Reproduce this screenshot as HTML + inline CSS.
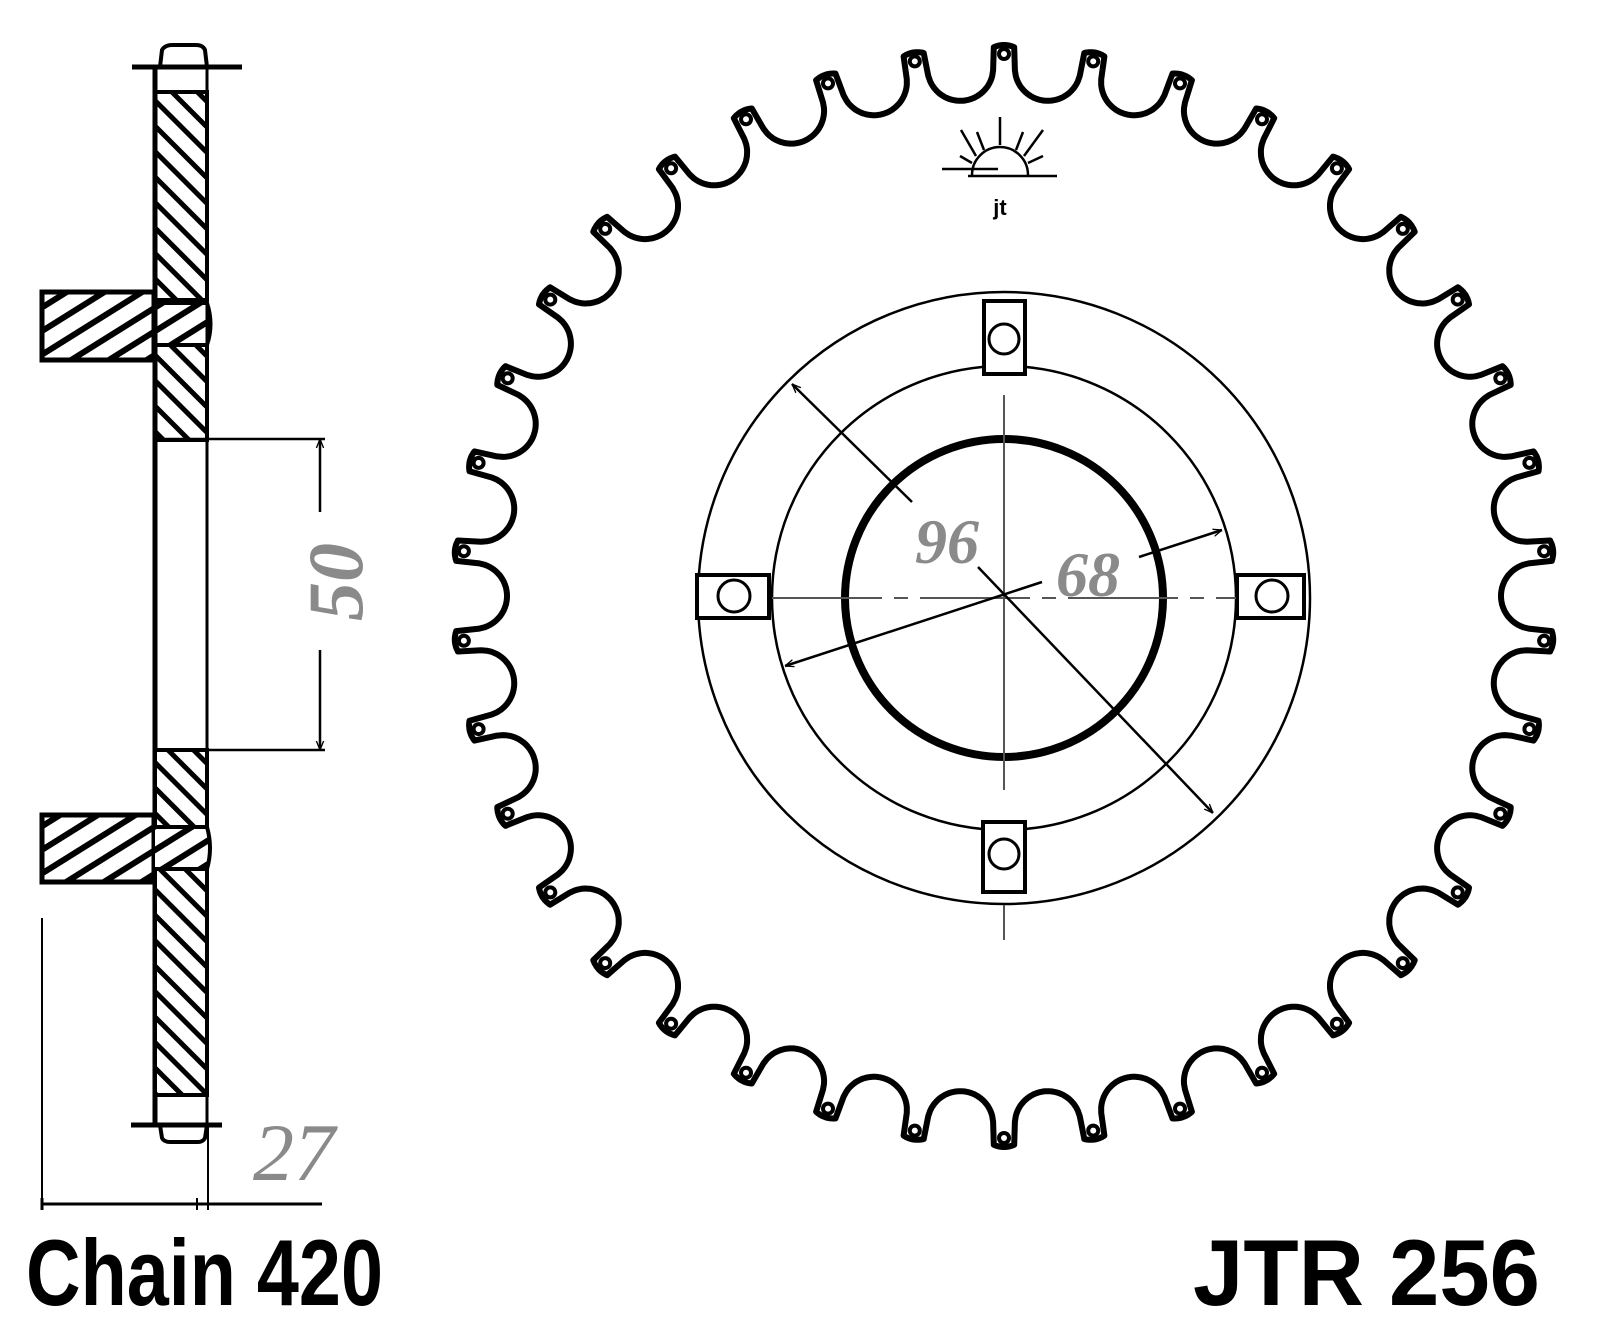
<!DOCTYPE html>
<html><head><meta charset="utf-8"><style>
html,body{margin:0;padding:0;background:#fff}
svg{display:block}
</style></head><body>
<svg id="s" width="1600" height="1331" viewBox="0 0 1600 1331" xmlns="http://www.w3.org/2000/svg">
<defs>
<pattern id="hb" width="18" height="18" patternUnits="userSpaceOnUse" patternTransform="rotate(-45)">
<rect width="18" height="18" fill="#fff"/><rect x="0" y="0" width="5" height="18" fill="#000"/></pattern>
<pattern id="hf" width="20" height="20" patternUnits="userSpaceOnUse" patternTransform="rotate(58)">
<rect width="20" height="20" fill="#fff"/><rect x="0" y="0" width="6" height="20" fill="#000"/></pattern>
<marker id="ar" viewBox="0 0 10 10" refX="10" refY="5" markerWidth="9" markerHeight="9" orient="auto-start-reverse" markerUnits="userSpaceOnUse">
<path d="M0,1 L10,5 L0,9" fill="none" stroke="#000" stroke-width="1.5"/></marker>
</defs>

<g stroke="#000" fill="none">
  <path d="M160,67 L162,50 Q165,45 172,45 L196,45 Q203,45 205,50 L207,67" stroke-width="4"/>
  <line x1="132" y1="67" x2="242" y2="67" stroke-width="5"/>
  <rect x="155" y="92" width="52" height="208" fill="url(#hb)" stroke-width="4"/>
  <rect x="155" y="345" width="52" height="95" fill="url(#hb)" stroke-width="4"/>
  <rect x="42" y="292" width="112" height="68" fill="url(#hf)" stroke-width="5"/>
  <path d="M155,303 L207,303 Q214,324 207,345 L155,345" fill="url(#hf)" stroke-width="4"/>
  <line x1="155" y1="67" x2="155" y2="1125" stroke-width="5"/>
  <line x1="207" y1="67" x2="207" y2="1125" stroke-width="3"/>
  <line x1="155" y1="439" x2="325" y2="439" stroke-width="2.5"/>
  <line x1="155" y1="750" x2="325" y2="750" stroke-width="2.5"/>
  <line x1="320" y1="439" x2="320" y2="512" stroke-width="2.5" marker-start="url(#ar)"/>
  <line x1="320" y1="650" x2="320" y2="750" stroke-width="2.5" marker-end="url(#ar)"/>
  <rect x="155" y="750" width="52" height="345" fill="url(#hb)" stroke-width="4"/>
  <rect x="42" y="815" width="112" height="67" fill="url(#hf)" stroke-width="5"/>
  <path d="M155,827 L207,827 Q213,848 207,869 L155,869" fill="url(#hf)" stroke-width="4"/>
  <line x1="131" y1="1125" x2="222" y2="1125" stroke-width="5"/>
  <path d="M160,1125 L162,1138 Q164,1142 170,1142 L198,1142 Q203,1142 205,1138 L207,1125" stroke-width="4"/>
  <line x1="42" y1="918" x2="42" y2="1208" stroke-width="2"/>
  <line x1="208" y1="1125" x2="208" y2="1210" stroke-width="2"/>
  <line x1="42" y1="1204" x2="322" y2="1204" stroke-width="3"/>
  <line x1="42" y1="1198" x2="42" y2="1210" stroke-width="3"/>
  <line x1="197" y1="1198" x2="197" y2="1210" stroke-width="2"/>
</g>
<text x="0" y="0" transform="translate(362,582) rotate(-90)" text-anchor="middle" font-family="Liberation Serif, serif" font-weight="bold" font-style="italic" font-size="78" fill="#8a8a8a">50</text>
<text x="294" y="1180" text-anchor="middle" font-family="Liberation Serif, serif" font-style="italic" font-size="82" fill="#8a8a8a">27</text>

<path id="gear" d="" fill="none" stroke="#000" stroke-width="6" stroke-linejoin="round"/>
<g id="tips" fill="#fff" stroke="#000" stroke-width="4"></g>

<g stroke="#000" fill="none">
  <circle cx="1004" cy="598" r="306" stroke-width="2.5"/>
  <circle cx="1004" cy="598" r="232" stroke-width="2.5"/>
  <circle cx="1004" cy="598" r="159" stroke-width="8"/>
  <rect x="984" y="301" width="41" height="73" fill="#fff" stroke-width="4"/>
  <circle cx="1004" cy="339" r="15" stroke-width="3"/>
  <rect x="983" y="822" width="42" height="70" fill="#fff" stroke-width="4"/>
  <circle cx="1004" cy="854" r="15" stroke-width="3"/>
  <rect x="697" y="575" width="72" height="43" fill="#fff" stroke-width="4"/>
  <circle cx="734" cy="596" r="16" stroke-width="3"/>
  <rect x="1237" y="575" width="67" height="43" fill="#fff" stroke-width="4"/>
  <circle cx="1272" cy="596" r="16" stroke-width="3"/>
  <line x1="1004" y1="395" x2="1004" y2="790" stroke="#555" stroke-width="2"/>
  <line x1="1004" y1="905" x2="1004" y2="940" stroke="#555" stroke-width="2"/>
  <line x1="772" y1="598" x2="1236" y2="598" stroke="#555" stroke-width="2" stroke-dasharray="110,12,14,12"/>
  <line x1="912" y1="502" x2="792" y2="384" stroke-width="2.5" marker-end="url(#ar)"/>
  <line x1="978" y1="567" x2="1213" y2="813" stroke-width="2.5" marker-end="url(#ar)"/>
  <line x1="1139" y1="557" x2="1222" y2="530" stroke-width="2.5" marker-end="url(#ar)"/>
  <line x1="1042" y1="582" x2="785" y2="666" stroke-width="2.5" marker-end="url(#ar)"/>
</g>
<text x="947" y="563" text-anchor="middle" font-family="Liberation Serif, serif" font-weight="bold" font-style="italic" font-size="64" fill="#8a8a8a">96</text>
<text x="1088" y="596" text-anchor="middle" font-family="Liberation Serif, serif" font-weight="bold" font-style="italic" font-size="64" fill="#8a8a8a">68</text>

<g stroke="#000" stroke-width="2.5" fill="none">
  <path d="M972,175 A28,28 0 0 1 1028,175"/>
  <line x1="942" y1="169" x2="998" y2="169"/>
  <line x1="968" y1="176" x2="1057" y2="176"/>
  <line x1="1000" y1="145" x2="1000" y2="117"/>
  <line x1="984" y1="150" x2="977" y2="132"/>
  <line x1="1016" y1="150" x2="1023" y2="132"/>
  <line x1="976" y1="156" x2="961" y2="130"/>
  <line x1="1024" y1="156" x2="1043" y2="130"/>
  <line x1="972" y1="163" x2="960" y2="156"/>
  <line x1="1028" y1="163" x2="1043" y2="156"/>
</g>
<text x="1000" y="215" text-anchor="middle" font-family="Liberation Sans, sans-serif" font-weight="bold" font-size="22" fill="#000">jt</text>

<text x="26" y="1305" font-family="Liberation Sans, sans-serif" font-weight="bold" font-size="94" textLength="357" lengthAdjust="spacingAndGlyphs" fill="#000">Chain 420</text>
<text x="1193" y="1305" font-family="Liberation Sans, sans-serif" font-weight="bold" font-size="94" textLength="347" lengthAdjust="spacingAndGlyphs" fill="#000">JTR 256</text>
</svg>
<script>
(function(){
var cx=1004,cy=596,N=38,Rt=551,Rc=530,rho=33,pitch=2*Math.PI/N;
var pts=[],M=N*80;
for(var i=0;i<M;i++){
  var th=-Math.PI/2+i*2*Math.PI/M;
  var rel=th+Math.PI/2;
  var k=Math.round(rel/pitch);
  var t=rel-k*pitch;
  var d=pitch/2-Math.abs(t);
  var r=Rt;
  var s=Rc*Math.sin(d);
  if(Math.abs(s)<rho){var e=Rc*Math.cos(d)-Math.sqrt(rho*rho-s*s); if(e<r)r=e;}
  var cap=Rt-0.5*Math.pow(Rt*Math.abs(t)/5,2);
  if(cap<r)r=cap;
  pts.push((cx+r*Math.cos(th)).toFixed(1)+","+(cy+r*Math.sin(th)).toFixed(1));
}
document.getElementById('gear').setAttribute('d','M'+pts.join(' L')+' Z');
var g=document.getElementById('tips'),h='';
for(var j=0;j<N;j++){var a=-Math.PI/2+j*pitch,rr=Rt-9;
h+='<circle cx="'+(cx+rr*Math.cos(a)).toFixed(1)+'" cy="'+(cy+rr*Math.sin(a)).toFixed(1)+'" r="5"/>';}
g.innerHTML=h;
})();
</script>
</body></html>
